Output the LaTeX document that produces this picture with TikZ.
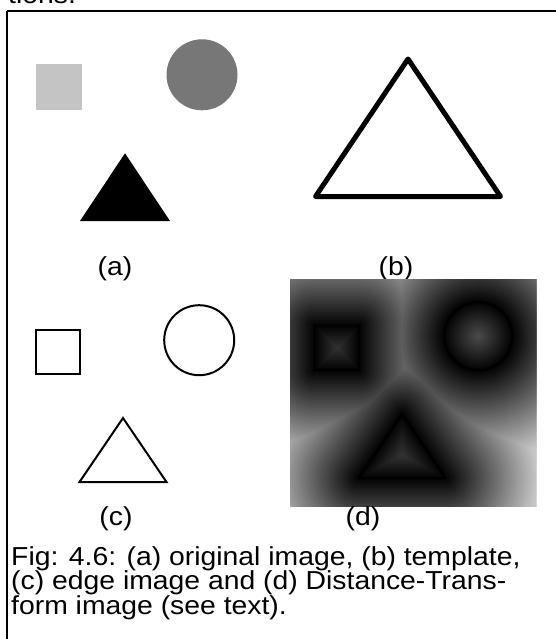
\documentclass[tikz,border=0pt]{standalone}
\usepackage{fontspec}
\usepackage{graphicx}
\setmainfont{Liberation Sans}
\newcommand{\widetxt}[1]{\scalebox{1.09}[1]{#1}}
\begin{document}
\begin{tikzpicture}[x=1pt,y=-1pt,
  lbl/.style={inner sep=0pt,anchor=base,font=\fontsize{26}{25}\selectfont},
  captext/.style={inner sep=0pt,anchor=base west,font=\fontsize{26}{25}\selectfont},
  frame/.style={line width=2.6pt},
  edgeline/.style={line width=2pt,line join=miter},
  tmpl/.style={line width=5pt,line join=round}]
\useasboundingbox (0,0) rectangle (556,639);
% cut-off text at the top
\node[captext] (top) at (8,4) {\widetxt{tions.}};
% frame
\draw[frame] (7,11) -- (560,11);
\draw[frame] (7,11) -- (7,650);
% (a) original image
\fill[fill={rgb,255:red,196;green,196;blue,196}] (36,64) rectangle (81.5,110);
\fill[fill={rgb,255:red,119;green,119;blue,119}] (202,74.8) circle (35.5);
\fill[black] (125,153.3) -- (170,221) -- (80,221) -- cycle;
\node[lbl] (la) at (115,275) {\widetxt{(a)}};
% (b) template
\draw[tmpl] (408,59) -- (500.5,196.5) -- (315.5,196.5) -- cycle;
\node[lbl] (lb) at (396,275) {\widetxt{(b)}};
% (c) edge image
\draw[edgeline] (35.5,329.5) rectangle (80,374);
\draw[edgeline] (199.2,340.2) circle (35);
\draw[edgeline] (123,418) -- (166.5,482) -- (79.5,482) -- cycle;
\node[lbl] (lc) at (116,525) {\widetxt{(c)}};
% (d) distance transform
\begin{scope}
\clip (290,279) rectangle (536,506);
\fill[white!78!black] (290,279) rectangle (536,506);
\begin{scope}[shift={(279,-4)}]
\foreach \d in {110,108,...,2}{
  \pgfmathsetmacro\g{min(78,0.84*\d)}
  \begin{scope}[line width=2*\d,line join=round,draw=white!\g!black]
    \draw (35.5,329.5) rectangle (80,374);
    \draw (199.2,340.2) circle (34);
    \draw (123,418) -- (166.5,482) -- (79.5,482) -- cycle;
  \end{scope}
}
\begin{scope}[line width=1.5pt,line join=round,draw=black]
    \draw (35.5,329.5) rectangle (80,374);
    \draw (199.2,340.2) circle (34);
    \draw (123,418) -- (166.5,482) -- (79.5,482) -- cycle;
\end{scope}
\end{scope}
\end{scope}
\node[lbl] (ld) at (363,525) {\widetxt{(d)}};
% caption
\node[captext] (c1) at (11,565) {\widetxt{Fig: 4.6: (a) original image, (b) template,}};
\node[captext] (c2) at (11,589.5) {\widetxt{(c) edge image and (d) Distance-Trans-}};
\node[captext] (c3) at (11,614) {\widetxt{form image (see text).}};
\end{tikzpicture}
\end{document}
